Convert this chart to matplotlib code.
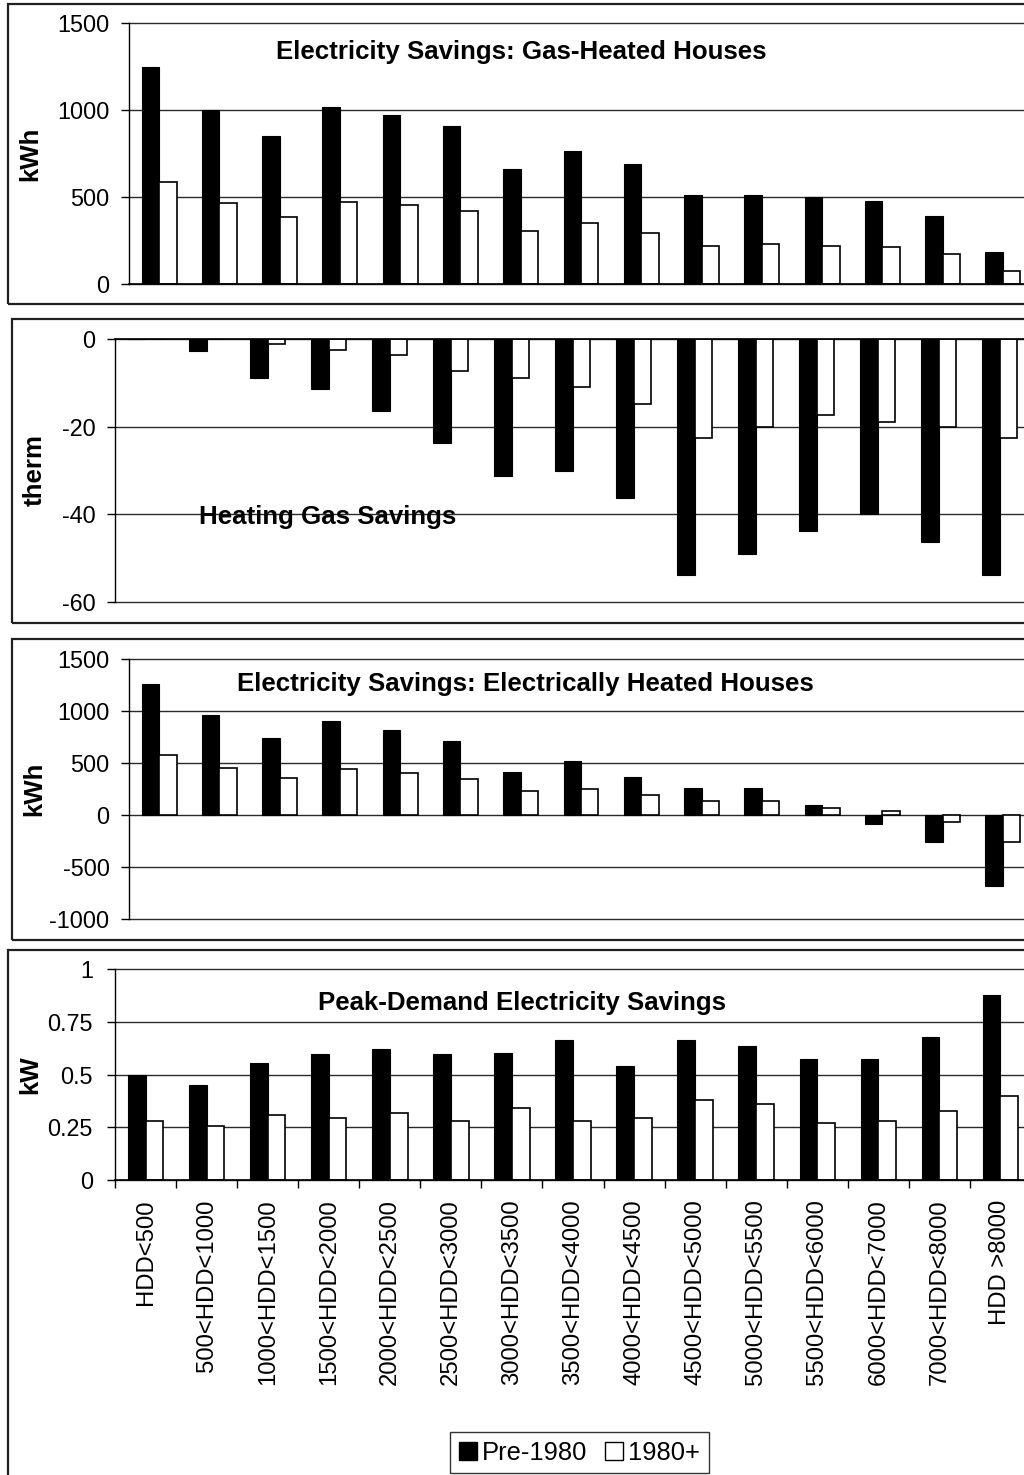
import matplotlib
matplotlib.use("Agg")
import matplotlib.pyplot as plt
from matplotlib.patches import Rectangle
import numpy as np

plt.rcParams['font.family'] = ['Liberation Sans', 'DejaVu Sans']

# Heating-degree-day bins
categories = ["HDD<500", "500<HDD<1000", "1000<HDD<1500", "1500<HDD<2000",
              "2000<HDD<2500", "2500<HDD<3000", "3000<HDD<3500", "3500<HDD<4000",
              "4000<HDD<4500", "4500<HDD<5000", "5000<HDD<5500", "5500<HDD<6000",
              "6000<HDD<7000", "7000<HDD<8000", "HDD >8000"]
series_names = ["Pre-1980", "1980+"]

# Electricity savings, gas-heated houses (kWh)
gas_elec_pre = [1250, 1000, 850, 1015, 970, 910, 660, 763, 690, 511, 511, 502, 475, 391, 182]
gas_elec_post = [584, 464, 387, 473, 452, 418, 305, 351, 295, 220, 228, 220, 211, 172, 76]

# Heating gas savings (therm)
gas_heat_pre = [0, -2.7, -9.0, -11.3, -16.4, -23.8, -31.2, -30.1, -36.3, -53.8, -49.1, -43.8, -40.0, -46.4, -53.8]
gas_heat_post = [0, 0, -1.1, -2.5, -3.6, -7.4, -8.8, -11.0, -14.8, -22.5, -20.0, -17.3, -18.9, -20.0, -22.5]

# Electricity savings, electrically heated houses (kWh)
elec_heat_pre = [1260, 960, 740, 900, 820, 710, 410, 520, 365, 255, 255, 100, -85, -255, -680]
elec_heat_post = [580, 455, 360, 440, 405, 345, 235, 250, 190, 130, 130, 65, 35, -65, -255]

# Peak-demand electricity savings (kW)
peak_pre = [0.50, 0.45, 0.555, 0.595, 0.62, 0.595, 0.60, 0.665, 0.54, 0.665, 0.635, 0.575, 0.575, 0.68, 0.875]
peak_post = [0.28, 0.255, 0.31, 0.295, 0.318, 0.28, 0.34, 0.28, 0.295, 0.378, 0.362, 0.27, 0.28, 0.325, 0.40]

W, H = 1024, 1475
fig = plt.figure(figsize=(W / 100, H / 100), dpi=100)

GRID = '#2a2a2a'
TICK_FS = 16.8
TITLE_FS = 18.6
LABEL_FS = 18.6
BAR_W = 0.29


def px_axes(left, top, right, bottom):
    return fig.add_axes([left / W, 1 - bottom / H, (right - left) / W, (bottom - top) / H])


def fx(x):
    return x / W


def fy(y):
    return 1 - y / H


def panel_frame(x0, y0, x1, y1):
    fig.add_artist(Rectangle((fx(x0), fy(y1)), (x1 - x0) / W, (y1 - y0) / H,
                             transform=fig.transFigure, fill=False,
                             edgecolor='#202020', linewidth=1.6))


def draw_panel(ax, pre, post, ylim, yticks, yticklabels):
    n = len(categories)
    x = np.arange(n) + 0.5
    for yt in yticks:
        ax.axhline(yt, color=GRID, linewidth=1.0, zorder=1, clip_on=False)
    ax.bar(x - BAR_W / 2, pre, width=BAR_W, color='black', edgecolor='black',
           linewidth=0.8, zorder=3, label=series_names[0])
    ax.bar(x + BAR_W / 2, post, width=BAR_W, color='white', edgecolor='black',
           linewidth=1.2, zorder=3, label=series_names[1])
    ax.set_xlim(0, n)
    ax.set_ylim(*ylim)
    ax.set_yticks(yticks)
    ax.set_yticklabels(yticklabels)
    for s in ('top', 'right', 'bottom'):
        ax.spines[s].set_visible(False)
    ax.spines['left'].set_color('black')
    ax.spines['left'].set_linewidth(1.0)
    ax.tick_params(axis='y', direction='out', length=6, width=1.0,
                   labelsize=TICK_FS, pad=8, color='black')
    ax.set_xticks([])
    ax.patch.set_alpha(0)


# Panel frames
panel_frame(8, 4, 1060, 304)
panel_frame(12, 319, 1060, 623)
panel_frame(12, 639, 1060, 940)
panel_frame(8, 950, 1060, 1500)

# Panel 1: electricity savings, gas-heated
ax1 = px_axes(129, 23, 1033, 284)
draw_panel(ax1, gas_elec_pre, gas_elec_post, (0, 1500), [0, 500, 1000, 1500],
           ["0", "500", "1000", "1500"])
ax1.axhline(0, color='black', linewidth=1.2, zorder=4, clip_on=False)
fig.text(fx(521.5), fy(59.5), "Electricity Savings: Gas-Heated Houses",
         ha='center', va='baseline', fontsize=TITLE_FS, fontweight='bold')
fig.text(fx(30.5), fy(153.5), "kWh", rotation=90, ha='center', va='center',
         fontsize=LABEL_FS, fontweight='bold')

# Panel 2: heating gas savings
ax2 = px_axes(115, 339, 1030, 602)
draw_panel(ax2, gas_heat_pre, gas_heat_post, (-60, 0), [-60, -40, -20, 0],
           ["-60", "-40", "-20", "0"])
ax2.axhline(0, color='black', linewidth=1.2, zorder=4, clip_on=False)
fig.text(fx(328), fy(523.5), "Heating Gas Savings",
         ha='center', va='baseline', fontsize=TITLE_FS, fontweight='bold', zorder=5)
fig.text(fx(35), fy(470.5), "therm", rotation=90, ha='center', va='center',
         fontsize=LABEL_FS, fontweight='bold')

# Panel 3: electricity savings, electrically heated
ax3 = px_axes(129, 659, 1033, 919)
draw_panel(ax3, elec_heat_pre, elec_heat_post, (-1000, 1500),
           [-1000, -500, 0, 500, 1000, 1500],
           ["-1000", "-500", "0", "500", "1000", "1500"])
fig.text(fx(525), fy(691), "Electricity Savings: Electrically Heated Houses",
         ha='center', va='baseline', fontsize=TITLE_FS, fontweight='bold')
fig.text(fx(34), fy(789), "kWh", rotation=90, ha='center', va='center',
         fontsize=LABEL_FS, fontweight='bold')

# Panel 4: peak-demand savings, with the category axis
ax4 = px_axes(115, 969, 1031, 1180)
draw_panel(ax4, peak_pre, peak_post, (0, 1), [0, 0.25, 0.5, 0.75, 1],
           ["0", "0.25", "0.5", "0.75", "1"])
ax4.axhline(0, color='black', linewidth=1.2, zorder=4, clip_on=False)
ax4.set_xticks(np.arange(len(categories)) + 0.5)
ax4.set_xticklabels(categories, rotation=90, fontsize=17.2)
ax4.set_xticks(np.arange(len(categories) + 1), minor=True)
ax4.tick_params(axis='x', which='major', length=0, pad=14)
ax4.tick_params(axis='x', which='minor', direction='out', length=6, width=1.0,
                color='black')
ax4.tick_params(axis='y', pad=10)
fig.text(fx(521.5), fy(1010), "Peak-Demand Electricity Savings",
         ha='center', va='baseline', fontsize=TITLE_FS, fontweight='bold')
fig.text(fx(30), fy(1075), "kW", rotation=90, ha='center', va='center',
         fontsize=LABEL_FS, fontweight='bold')

# Legend
handles = [Rectangle((0, 0), 1, 1, facecolor='black', edgecolor='black'),
           Rectangle((0, 0), 1, 1, facecolor='white', edgecolor='black')]
leg = fig.legend(handles, series_names, loc='center',
                 bbox_to_anchor=(fx(579.5), fy(1452.5)), ncol=2, frameon=True,
                 fancybox=False, edgecolor='black', fontsize=18.4,
                 handlelength=0.7, handleheight=0.7, handletextpad=0.2,
                 columnspacing=0.7, borderpad=0.35, borderaxespad=0)
leg.get_frame().set_linewidth(1.0)

fig.savefig("out.png", dpi=100, facecolor='white')
